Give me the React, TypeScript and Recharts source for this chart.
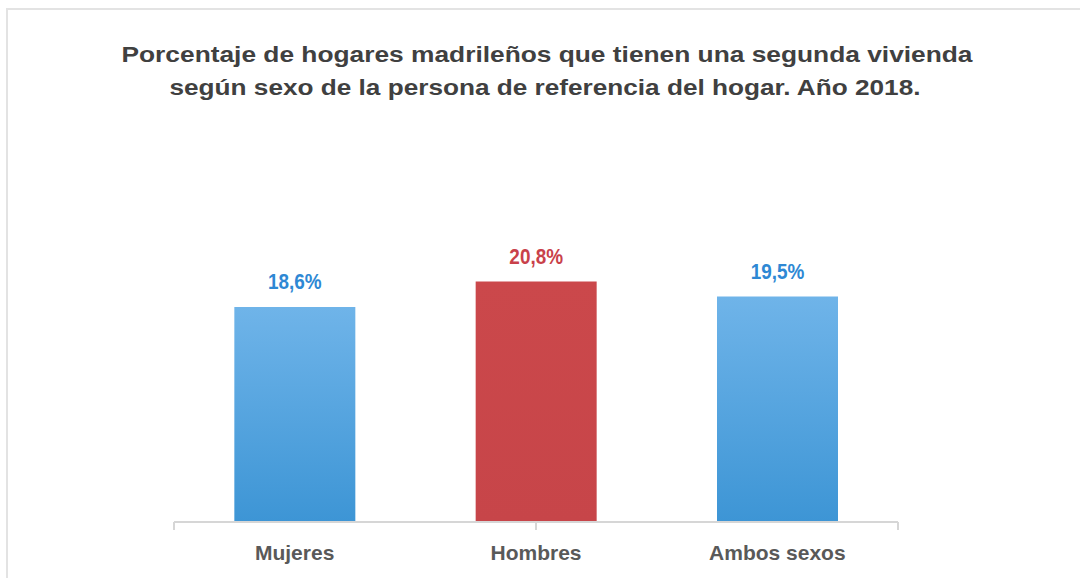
import React from 'react';
import { BarChart, Bar, XAxis, YAxis, Cell, LabelList } from 'recharts';

const categories = ['Mujeres', 'Hombres', 'Ambos sexos'];
const porcentajes = [18.6, 20.8, 19.5];
const titleLines = [
  'Porcentaje de hogares madrileños que tienen una segunda vivienda',
  'según sexo de la persona de referencia del hogar. Año 2018.',
];
const edgeTicks = [0, 1, 2, 3];

// styles per category
const barFills = ['url(#azulBar)', 'url(#rojoBar)', 'url(#azulBar)'];
const labelColors = ['#2e88d4', '#c9414a', '#2e88d4'];

const data = categories.map((name, i) => ({ name, value: porcentajes[i] }));

const fmtPct = (v: number) => v.toFixed(1).replace('.', ',') + '%';

const SANS = "'Liberation Sans', Arial, sans-serif";

// value labels look like Arial Narrow: squeeze a normal bold face
const renderValueLabel = (props: any) => {
  const { x, y, width, index, value } = props;
  return (
    <g transform={`translate(${x + width / 2}, ${y - 18}) scale(0.86, 1)`}>
      <text
        x={0}
        y={0}
        textAnchor="middle"
        fill={labelColors[index]}
        fontFamily={SANS}
        fontSize={22}
        fontWeight="bold"
      >
        {fmtPct(value)}
      </text>
    </g>
  );
};

const CategoryTick = (props: any) => {
  const { x, y, payload } = props;
  return (
    <text x={x} y={y + 37} textAnchor="middle" fill="#595959" fontFamily={SANS} fontSize={21} fontWeight="bold">
      {payload.value}
    </text>
  );
};

const EmptyTick = () => <g />;

export default function App() {
  return (
    <div style={{ position: 'absolute', left: 0, top: 0, width: 1080, height: 578, background: '#fff' }}>
      <BarChart
        width={1080}
        height={578}
        data={data}
        margin={{ top: 233, right: 182, bottom: 0, left: 174 }}
        barCategoryGap="25%"
      >
        <defs>
          <linearGradient id="azulBar" x1="0" y1="0" x2="0" y2="1">
            <stop offset="0%" stopColor="#6fb4e9" />
            <stop offset="100%" stopColor="#3d95d5" />
          </linearGradient>
          <linearGradient id="rojoBar" x1="0" y1="0" x2="0" y2="1">
            <stop offset="0%" stopColor="#cb484b" />
            <stop offset="100%" stopColor="#c74549" />
          </linearGradient>
        </defs>
        {/* axis ids are ordered: "a-edges" lies against the plot, "cat" below it */}
        <XAxis
          xAxisId="a-edges"
          type="number"
          domain={[0, 3]}
          ticks={edgeTicks}
          allowDataOverflow
          height={1}
          axisLine={{ stroke: '#d6d6d6', strokeWidth: 2 }}
          tickLine={{ stroke: '#d6d6d6', strokeWidth: 2 }}
          tickSize={8}
          tick={<EmptyTick />}
        />
        <XAxis
          xAxisId="cat"
          dataKey="name"
          height={55}
          axisLine={false}
          tickLine={false}
          tickSize={0}
          tickMargin={0}
          tick={<CategoryTick />}
          interval={0}
        />
        <YAxis hide domain={[0, 25]} />
        <Bar xAxisId="cat" dataKey="value" isAnimationActive={false}>
          {data.map((_d, i) => (
            <Cell key={`c-${i}`} fill={barFills[i]} />
          ))}
          <LabelList dataKey="value" content={renderValueLabel} />
        </Bar>
      </BarChart>
      <svg
        width={1080}
        height={578}
        style={{ position: 'absolute', left: 0, top: 0, pointerEvents: 'none' }}
      >
        <rect x={7} y={9} width={1100} height={600} fill="none" stroke="#e3e3e3" strokeWidth={2} />
        <text x={547} y={62} textAnchor="middle" fill="#404040" fontFamily={SANS} fontSize={22} fontWeight="bold" textLength={851} lengthAdjust="spacingAndGlyphs">
          {titleLines[0]}
        </text>
        <text x={545} y={95} textAnchor="middle" fill="#404040" fontFamily={SANS} fontSize={22} fontWeight="bold" textLength={751} lengthAdjust="spacingAndGlyphs">
          {titleLines[1]}
        </text>
      </svg>
    </div>
  );
}
